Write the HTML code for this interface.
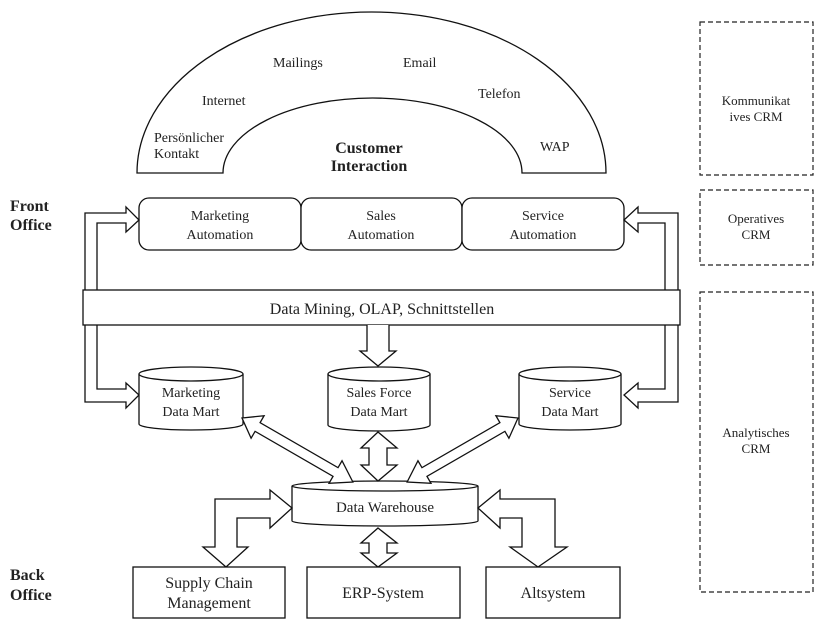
<!DOCTYPE html>
<html><head><meta charset="utf-8"><style>
html,body{margin:0;padding:0;background:#fff}
svg{display:block}
text{font-family:"Liberation Serif",serif;fill:#222}
</style></head><body>
<svg width="826" height="624" viewBox="0 0 826 624" xmlns="http://www.w3.org/2000/svg">
<g fill="#fff" stroke="#111" stroke-width="1.3">
<path d="M137,173 A234.5,161 0 0 1 606,173 L522,173 A149.5,75 0 0 0 223,173 Z"/>
<rect x="139" y="198" width="162" height="52" rx="10"/>
<rect x="301" y="198" width="161" height="52" rx="10"/>
<rect x="462" y="198" width="162" height="52" rx="10"/>
<path d="M85,290 L85,213 L126,213 L126,207 L139,220 L126,232 L126,223 L97,223 L97,290"/>
<path d="M85,325 L85,402 L126,402 L126,408 L139,395 L126,383 L126,389 L97,389 L97,325"/>
<path d="M678,290 L678,213 L638,213 L638,207 L624,220 L638,232 L638,223 L665,223 L665,290"/>
<path d="M678,325 L678,402 L638,402 L638,408 L624,395 L638,383 L638,389 L665,389 L665,325"/>
<rect x="83" y="290" width="597" height="35"/>
<path d="M367,325 L367,351 L360,351 L378,366 L396,351 L389,351 L389,325"/>
<path d="M139,374 L139,424 A52,6 0 0 0 243,424 L243,374"/>
<ellipse cx="191" cy="374" rx="52" ry="7"/>
<path d="M328,374 L328,425 A51,6 0 0 0 430,425 L430,374"/>
<ellipse cx="379" cy="374" rx="51" ry="7"/>
<path d="M519,374 L519,424 A51,6 0 0 0 621,424 L621,374"/>
<ellipse cx="570" cy="374" rx="51" ry="7"/>
<path d="M292,486 L292,521 A93,5 0 0 0 478,521 L478,486"/>
<ellipse cx="385" cy="486" rx="93" ry="5"/>
<path d="M378,432 L397,448 L387,448 L387,465 L397,465 L378,481 L361,465 L369,465 L369,448 L361,448 Z"/>
<path d="M378,528 L397,543 L387,543 L387,553 L397,553 L378,567 L361,553 L369,553 L369,543 L361,543 Z"/>
<g transform="translate(242,418) rotate(30)">
<path d="M0,0 L18,-13 L18,-5 L108,-5 L108,-13 L128,0 L108,13 L108,5 L18,5 L18,13 Z"/>
</g>
<g transform="translate(518,418) rotate(150)">
<path d="M0,0 L18,-13 L18,-5 L108,-5 L108,-13 L128,0 L108,13 L108,5 L18,5 L18,13 Z"/>
</g>
<path d="M292,508 L270,490 L270,499 L215,499 L215,547 L203,547 L226,567 L248,547 L237,547 L237,518 L270,518 L270,528 Z"/>
<path d="M478,508 L500,490 L500,499 L555,499 L555,547 L567,547 L538,567 L510,547 L522,547 L522,518 L500,518 L500,528 Z"/>
<rect x="133" y="567" width="152" height="51"/>
<rect x="307" y="567" width="153" height="51"/>
<rect x="486" y="567" width="134" height="51"/>
</g>
<g fill="none" stroke="#222" stroke-width="1.2" stroke-dasharray="5,3">
<rect x="700" y="22" width="113" height="153"/>
<rect x="700" y="190" width="113" height="75"/>
<rect x="700" y="292" width="113" height="300"/>
</g>
<g font-size="13" text-anchor="middle">
<text x="756" y="105">Kommunikat</text><text x="756" y="121">ives CRM</text>
<text x="756" y="223">Operatives</text><text x="756" y="239">CRM</text>
<text x="756" y="437">Analytisches</text><text x="756" y="453">CRM</text>
</g>
<g font-size="14" text-anchor="middle">
<text x="220" y="220">Marketing</text><text x="220" y="239">Automation</text>
<text x="381" y="220">Sales</text><text x="381" y="239">Automation</text>
<text x="543" y="220">Service</text><text x="543" y="239">Automation</text>
<text x="191" y="397">Marketing</text><text x="191" y="416">Data Mart</text>
<text x="379" y="397">Sales Force</text><text x="379" y="416">Data Mart</text>
<text x="570" y="397">Service</text><text x="570" y="416">Data Mart</text>
<text x="385" y="512" font-size="15">Data Warehouse</text>
</g>
<g font-size="14">
<text x="154" y="142">Persönlicher</text>
<text x="154" y="158">Kontakt</text>
<text x="202" y="105">Internet</text>
<text x="273" y="67">Mailings</text>
<text x="403" y="67">Email</text>
<text x="478" y="98">Telefon</text>
<text x="540" y="151">WAP</text>
</g>
<g font-size="16" text-anchor="middle">
<text x="382" y="314">Data Mining, OLAP, Schnittstellen</text>
<text x="209" y="588">Supply Chain</text><text x="209" y="608">Management</text>
<text x="383" y="598">ERP-System</text>
<text x="553" y="598">Altsystem</text>
</g>
<g font-size="16" font-weight="bold">
<text x="369" y="153" text-anchor="middle">Customer</text>
<text x="369" y="171" text-anchor="middle">Interaction</text>
<text x="10" y="211">Front</text><text x="10" y="230">Office</text>
<text x="10" y="580">Back</text><text x="10" y="600">Office</text>
</g>
</svg>
</body></html>
